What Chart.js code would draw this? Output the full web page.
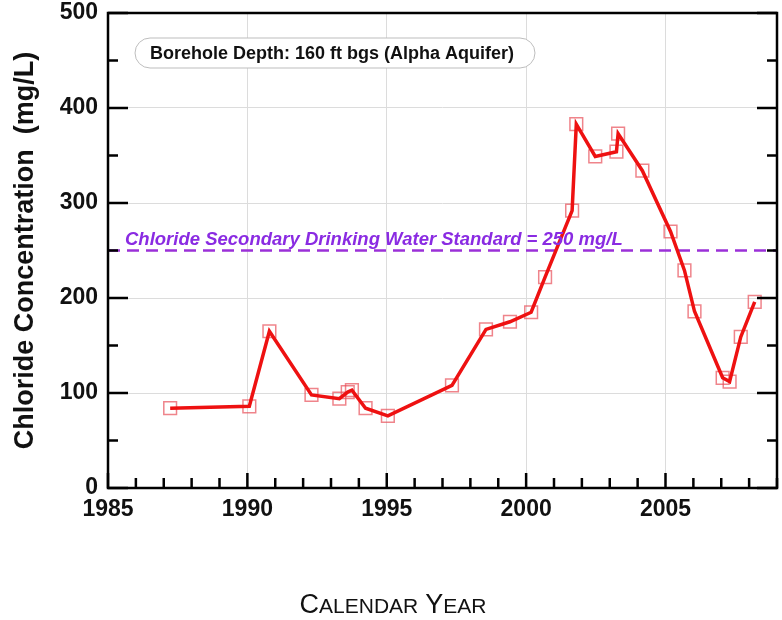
<!DOCTYPE html>
<html>
<head>
<meta charset="utf-8">
<script src="https://cdn.jsdelivr.net/npm/chart.js@4.4.1/dist/chart.umd.min.js"></script>
<style>
  html, body { margin: 0; padding: 0; background: #fff; }
  #wrap { position: relative; width: 782px; height: 620px; overflow: hidden; }
  #xtitle { position: absolute; left: 0; width: 786px; top: 589px; text-align: center;
            font-family: "Liberation Sans", Arial, sans-serif; color: #111; white-space: nowrap; }
  #xtitle .big { font-size: 27px; }
  #xtitle .sm { font-size: 21px; }
</style>
</head>
<body>
<div id="wrap">
  <canvas id="c" width="782" height="620"></canvas>
  <div id="xtitle"><span class="big">C</span><span class="sm">ALENDAR</span><span class="big"> Y</span><span class="sm">EAR</span></div>
</div>
<script>
// ---- data ----
const years = [1987.23, 1990.07, 1990.79, 1992.3, 1993.3, 1993.6, 1993.75, 1994.24, 1995.04,
               1997.34, 1998.56, 1999.42, 2000.18, 2000.68, 2001.65, 2001.8, 2002.48, 2003.24,
               2003.3, 2004.17, 2005.18, 2005.68, 2006.04, 2007.05, 2007.3, 2007.7, 2008.2];
const chloride = [84, 86, 165, 98, 94, 101, 103, 84, 76,
                  108, 167, 175, 185, 222, 292, 383, 349, 354,
                  373, 334, 270, 229, 186, 116, 112, 159, 196];
const standardValue = 250;
const standardLabel = "Chloride Secondary Drinking Water Standard = 250 mg/L";
const boxLabel = "Borehole Depth: 160 ft bgs (Alpha Aquifer)";
const yTitle = "Chloride Concentration  (mg/L)";
const xRange = [1985, 2009];
const yRange = [0, 500];

const FONT = '"Liberation Sans", Arial, Helvetica, sans-serif';
const pts = years.map((x, i) => ({ x: x, y: chloride[i] }));
const stdPts = [{ x: xRange[0], y: standardValue }, { x: xRange[1], y: standardValue }];

const decor = {
  id: 'decor',
  afterDatasetsDraw(chart) {
    const ctx = chart.ctx, a = chart.chartArea;
    const ys = chart.scales.y;
    ctx.save();
    // standard label
    ctx.font = 'italic bold 18.5px ' + FONT;
    ctx.fillStyle = '#8a2be2';
    ctx.textBaseline = 'alphabetic';
    ctx.textAlign = 'left';
    ctx.fillText(standardLabel, a.left + 17, ys.getPixelForValue(standardValue) - 6);
    // annotation box
    const bx = a.left + 27, by = a.top + 25, bw = 400, bh = 30, r = 15;
    ctx.beginPath();
    ctx.roundRect(bx, by, bw, bh, r);
    ctx.fillStyle = '#fff';
    ctx.fill();
    ctx.lineWidth = 1;
    ctx.strokeStyle = '#bdbdbd';
    ctx.stroke();
    ctx.font = 'bold 18px ' + FONT;
    ctx.fillStyle = '#111';
    ctx.textBaseline = 'middle';
    ctx.fillText(boxLabel, bx + 15, by + bh / 2 + 1);
    ctx.restore();
  },
  afterDraw(chart) {
    const ctx = chart.ctx, a = chart.chartArea;
    const xs = chart.scales.x, ys = chart.scales.y;
    ctx.save();
    ctx.strokeStyle = '#000';
    ctx.lineWidth = 2.5;
    ctx.beginPath();
    for (let v = yRange[0]; v <= yRange[1]; v += 50) {
      const y = ys.getPixelForValue(v);
      const len = (v % 100 === 0) ? 20 : 10;
      ctx.moveTo(a.left, y); ctx.lineTo(a.left + len, y);
      ctx.moveTo(a.right, y); ctx.lineTo(a.right - len, y);
    }
    for (let yr = xRange[0]; yr <= xRange[1]; yr += 1) {
      const x = xs.getPixelForValue(yr);
      const len = (yr % 5 === 0) ? 15 : 10;
      ctx.moveTo(x, a.bottom); ctx.lineTo(x, a.bottom - len);
    }
    ctx.stroke();
    ctx.strokeRect(a.left, a.top, a.right - a.left, a.bottom - a.top);
    ctx.restore();
  }
};

new Chart(document.getElementById('c'), {
  type: 'line',
  data: {
    datasets: [
      { data: pts, borderColor: '#ee1111', borderWidth: 3.5, pointRadius: 0, tension: 0, fill: false },
      { data: pts, showLine: false, pointStyle: 'rect', pointRadius: 9,
        pointBorderColor: 'rgba(232,80,90,0.7)', pointBackgroundColor: 'rgba(0,0,0,0)', pointBorderWidth: 1.5 },
      { data: stdPts, borderColor: '#9b30d8', borderWidth: 2.5, borderDash: [12, 7], pointRadius: 0, fill: false }
    ]
  },
  options: {
    responsive: false,
    animation: false,
    events: [],
    layout: { autoPadding: false, padding: { top: 13, right: 5, left: 0, bottom: 0 } },
    plugins: { legend: { display: false }, tooltip: { enabled: false } },
    scales: {
      x: {
        type: 'linear', min: xRange[0], max: xRange[1],
        afterFit(s) { s.height = 132; s.paddingLeft = 0; s.paddingRight = 0; },
        grid: { color: '#dcdcdc', lineWidth: 1, drawTicks: false },
        border: { display: false },
        ticks: { stepSize: 5, includeBounds: false, padding: 8, color: '#111',
                 font: { family: FONT, size: 23, weight: 'bold' },
                 callback: v => String(v) }
      },
      y: {
        type: 'linear', min: yRange[0], max: yRange[1],
        afterFit(s) { s.width = 108; s.paddingTop = 0; s.paddingBottom = 0; },
        grid: { color: '#dcdcdc', lineWidth: 1, drawTicks: false },
        border: { display: false },
        ticks: { stepSize: 100, padding: 10, color: '#111',
                 font: { family: FONT, size: 23, weight: 'bold' },
                 callback: v => String(v) },
        title: { display: true, text: yTitle, color: '#111', padding: { top: 9, bottom: 0 },
                 font: { family: FONT, size: 27, weight: 'bold' } }
      }
    }
  },
  plugins: [decor]
});
</script>
</body>
</html>
